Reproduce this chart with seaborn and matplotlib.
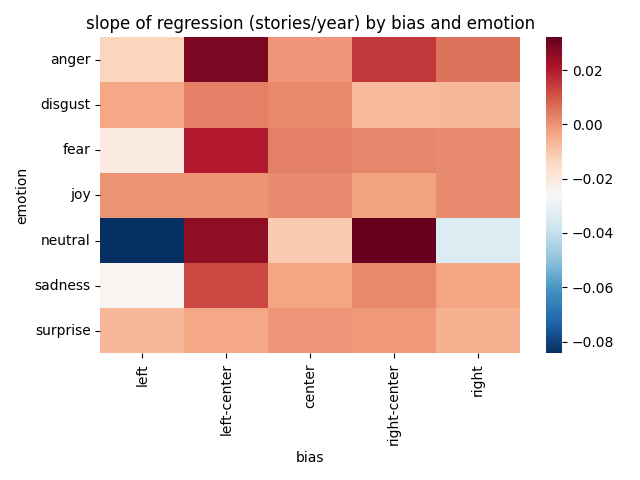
import matplotlib
matplotlib.use("Agg")
import matplotlib.pyplot as plt
import pandas as pd
import seaborn as sns

emotions = ["anger", "disgust", "fear", "joy", "neutral", "sadness", "surprise"]
biases = ["left", "left-center", "center", "right-center", "right"]

left = [-0.0133, -0.0037, -0.0211, 0.0000, -0.0844, -0.0248, -0.0067]
left_center = [0.0286, 0.0034, 0.0202, 0.0000, 0.0257, 0.0125, -0.0037]
center = [-0.0005, 0.0019, 0.0033, 0.0016, -0.0110, -0.0030, -0.0003]
right_center = [0.0152, -0.0072, 0.0023, -0.0029, 0.0321, 0.0019, -0.0009]
right = [0.0055, -0.0070, 0.0012, 0.0012, -0.0340, -0.0030, -0.0055]

df = pd.DataFrame(
    {
        "left": left,
        "left-center": left_center,
        "center": center,
        "right-center": right_center,
        "right": right,
    },
    index=pd.Index(emotions, name="emotion"),
)
df.columns.name = "bias"

fig, ax = plt.subplots(figsize=(6.4, 4.8), dpi=100)
sns.heatmap(df[biases], cmap="RdBu_r", ax=ax)
ax.set_title("slope of regression (stories/year) by bias and emotion")
ax.tick_params(axis="x", rotation=90)
plt.tight_layout()
plt.savefig("out.png")
